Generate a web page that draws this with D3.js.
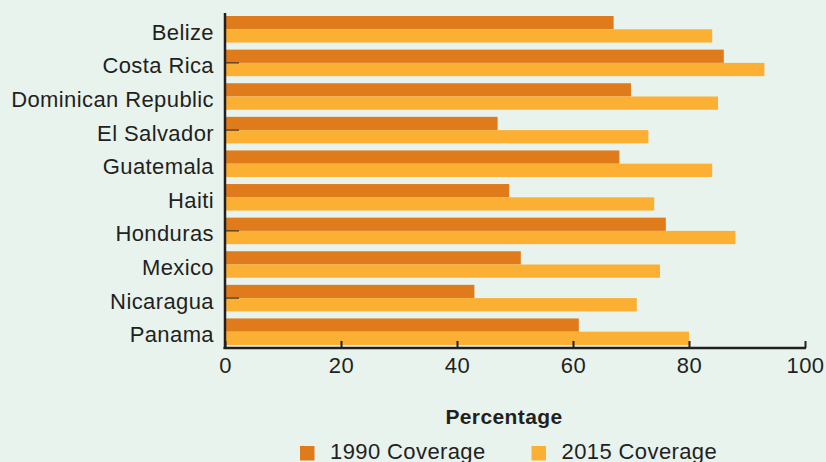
<!DOCTYPE html>
<html>
<head>
<meta charset="utf-8">
<script src="https://cdn.jsdelivr.net/npm/d3@7"></script>
<style>
  body { margin: 0; background: #e8f3ee; }
  svg { display: block; font-family: "Liberation Sans", Arial, sans-serif; letter-spacing: 0.4px; }
  .axis text { fill: #231f20; }
</style>
</head>
<body>
<div id="container"></div>
<script>
var countries = ['Belize', 'Costa Rica', 'Dominican Republic', 'El Salvador', 'Guatemala',
	'Haiti', 'Honduras', 'Mexico', 'Nicaragua', 'Panama'];
var series = ['1990 Coverage', '2015 Coverage'];
var coverage1990 = [67, 86, 70, 47, 68, 49, 76, 51, 43, 61];
var coverage2015 = [84, 93, 85, 73, 84, 74, 88, 75, 71, 80];
var xTicks = [0, 20, 40, 60, 80, 100];
// the little marks on the y axis in the original
var markedRows = ['Costa Rica', 'El Salvador', 'Honduras', 'Nicaragua'];

var width = 826, height = 462;
var margin = {top: 13, right: 21, bottom: 114, left: 225};
var colors = ['#e07b1c', '#fbb034'];
var ink = '#231f20';
var fontSize = 22;

var data = countries.map((c, i) => ({country: c, values: [coverage1990[i], coverage2015[i]]}));

var svg = d3.select('div#container')
	.append('svg')
	.attr('width', width)
	.attr('height', height);

var x = d3.scaleLinear()
	.domain([0, 100])
	.range([margin.left, width - margin.right]);

var y = d3.scaleBand()
	.domain(countries)
	.range([margin.top, height - margin.bottom])
	.paddingInner(0.21)
	.paddingOuter(0.09);

var ySub = d3.scaleBand()
	.domain(series)
	.range([0, y.bandwidth()]);

var groups = svg.append('g')
	.selectAll('g')
	.data(data)
	.join('g')
	.attr('transform', d => 'translate(0,' + y(d.country) + ')');

groups.selectAll('rect')
	.data(d => d.values.map((v, i) => ({key: series[i], value: v, i: i})))
	.join('rect')
	.attr('x', x(0))
	.attr('y', d => ySub(d.key))
	.attr('width', d => x(d.value) - x(0))
	.attr('height', ySub.bandwidth())
	.attr('fill', d => colors[d.i]);

// x axis, ticks pointing up
var xAxis = svg.append('g')
	.attr('class', 'axis')
	.attr('transform', 'translate(0,' + (height - margin.bottom) + ')')
	.call(d3.axisTop(x).tickValues(xTicks).tickSize(7).tickFormat(d3.format('d')));
xAxis.select('.domain').remove();
xAxis.selectAll('.tick line').attr('stroke', ink).attr('stroke-width', 2);
xAxis.selectAll('.tick text')
	.attr('y', 25)
	.attr('font-size', fontSize)
	.attr('dy', 0);
xAxis.append('line')
	.attr('x1', x(0) - 1.5).attr('x2', x(100) + 1)
	.attr('stroke', ink).attr('stroke-width', 2.5);

// y axis
var yAxis = svg.append('g')
	.attr('class', 'axis')
	.attr('transform', 'translate(' + x(0) + ',0)')
	.call(d3.axisLeft(y).tickSize(0).tickPadding(11));
yAxis.select('.domain').remove();
yAxis.selectAll('.tick text')
	.attr('font-size', fontSize)
	.attr('y', 0)
	.attr('dy', 10.5);
yAxis.append('line')
	.attr('y1', margin.top).attr('y2', height - margin.bottom + 1)
	.attr('stroke', ink).attr('stroke-width', 2.5);

svg.append('g')
	.selectAll('line')
	.data(markedRows)
	.join('line')
	.attr('x1', x(0)).attr('x2', x(0) + 14)
	.attr('y1', d => y(d) + y.bandwidth() / 2)
	.attr('y2', d => y(d) + y.bandwidth() / 2)
	.attr('stroke', ink).attr('stroke-width', 1);

svg.append('text')
	.attr('x', 504)
	.attr('y', 424)
	.attr('text-anchor', 'middle')
	.attr('font-size', 21)
	.attr('font-weight', 'bold')
	.attr('fill', ink)
	.text('Percentage');

var legend = svg.append('g')
	.selectAll('g')
	.data(series)
	.join('g')
	.attr('transform', (d, i) => 'translate(' + [300, 531.5][i] + ',446)');
legend.append('rect')
	.attr('width', 14.5).attr('height', 14.5)
	.attr('fill', (d, i) => colors[i]);
legend.append('text')
	.attr('x', 30)
	.attr('y', 12.5)
	.attr('font-size', fontSize)
	.attr('fill', ink)
	.text(d => d);
</script>
</body>
</html>
